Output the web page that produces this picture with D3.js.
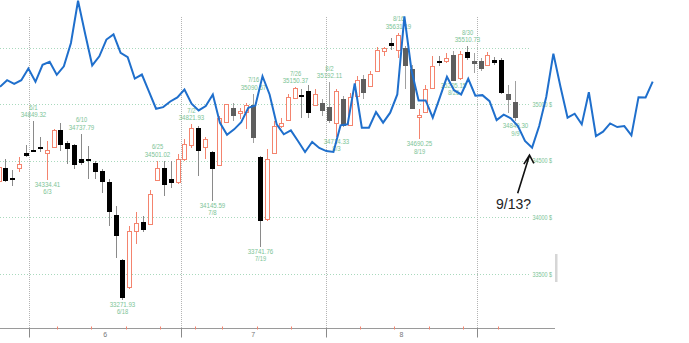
<!DOCTYPE html>
<html>
<head>
<meta charset="utf-8">
<script src="https://cdn.jsdelivr.net/npm/d3@7"></script>
<style>
  body { margin: 0; background: #fff; }
  svg { display: block; }
</style>
</head>
<body>
<div id="chart"></div>
<script>
// trading days shown (2021), OHLC
const days = [
  '5/24','5/25','5/26','5/27','5/28',
  '6/1','6/2','6/3','6/4','6/7','6/8','6/9','6/10','6/11','6/14','6/15','6/16','6/17','6/18',
  '6/21','6/22','6/23','6/24','6/25','6/28','6/29','6/30',
  '7/1','7/2','7/6','7/7','7/8','7/9','7/12','7/13','7/14','7/15','7/16','7/19','7/20','7/21',
  '7/22','7/23','7/26','7/27','7/28','7/29','7/30',
  '8/2','8/3','8/4','8/5','8/6','8/9','8/10','8/11','8/12','8/13','8/16','8/17','8/18','8/19',
  '8/20','8/23','8/24','8/25','8/26','8/27','8/30','8/31',
  '9/1','9/2','9/3','9/7','9/8','9/9'
];
const opens = [
  34319, 34440, 34349, 34440, 34572,
  34593, 34622, 34563, 34625, 34771, 34660, 34637, 34513, 34513, 34484, 34410, 34313, 34022, 33623,
  33383, 33882, 33956, 33941, 34337, 34440, 34343, 34308,
  34513, 34645, 34793, 34616, 34578, 34469, 34837, 34969, 34925, 34925, 34989, 34537, 33985, 34572,
  34807, 34866, 35057, 35077, 35121, 34989, 35013,
  34978, 34839, 35048, 34822, 35068, 35224, 35159, 35297, 35467, 35541, 35482, 35497, 35312, 34881,
  34925, 35145, 35380, 35380, 35438, 35233, 35462, 35386,
  35380, 35350, 35394, 35394, 35086, 35018
];
const highs = [
  34470, 34513, 34416, 34537, 34637,
  34849.32, 34713, 34674, 34778, 34830, 34675, 34645, 34737.79, 34630, 34498, 34425, 34337, 34102, 33632,
  33926, 34044, 34014, 34243, 34501.02, 34498, 34498, 34557,
  34689, 34821.93, 34807, 34713, 34590, 34895, 35002, 35015, 34969, 35013, 35090.57, 34542, 34601, 34851,
  34881, 35086, 35150.37, 35130, 35174, 35130, 35042,
  35192.11, 35133, 35071, 35101, 35247, 35260, 35291, 35506, 35506, 35586, 35631.19, 35518, 35350, 34954,
  35174, 35423, 35430, 35454, 35467, 35467, 35510.73, 35454,
  35410, 35458, 35421, 35412, 35174, 35203
];
const lows = [
  34300, 34311, 34273, 34401, 34537,
  34578, 34578, 34334.41, 34610, 34586, 34469, 34425, 34463, 34337, 34337, 34214, 33920, 33638, 33271.93,
  33368, 33764, 33870, 33932, 34328, 34190, 34264, 34293,
  34496, 34616, 34366, 34513, 34145.59, 34460, 34830, 34851, 34866, 34777, 34660, 33741.76, 33967, 34557,
  34793, 34857, 35042, 34881, 34881, 34980, 34895,
  34837, 34714.33, 34795, 34813, 35060, 35042, 35148, 35289, 35423, 35476, 35409, 35130, 34954, 34690.25,
  34919, 35139, 35335, 35368, 35205.15, 35218, 35394, 35277,
  35289, 35342, 35342, 35086, 34925, 34849.30
];
const closes = [
  34443, 34322, 34331, 34475, 34542,
  34584, 34608, 34593, 34771, 34639, 34610, 34463, 34478, 34496, 34405, 34313, 34044, 33837, 33289,
  33882, 33949, 33882, 34205, 34440, 34293, 34308, 34513,
  34645, 34793, 34586, 34689, 34431, 34881, 34998, 34895, 34939, 34989, 34696, 33970, 34519, 34807,
  34830, 35066, 35145, 35057, 34930, 35086, 34939,
  34851, 35121, 34807, 35066, 35212, 35101, 35268, 35482, 35497, 35512, 35615, 35342, 34960, 34901,
  35130, 35335, 35365, 35410, 35212, 35444, 35409, 35359,
  35306, 35438, 35365, 35101, 35036, 34881
];

// marked highs / lows
const highMarkDays = ['6/1', '6/10', '6/25', '7/2', '7/16', '7/26', '8/2', '8/16', '8/30'];
const highMarkValues = [34849.32, 34737.79, 34501.02, 34821.93, 35090.57, 35150.37, 35192.11, 35631.19, 35510.73];
const lowMarkDays = ['6/3', '6/18', '7/8', '7/19', '8/3', '8/19', '8/26', '9/9'];
const lowMarkValues = [34334.41, 33271.93, 34145.59, 33741.76, 34714.33, 34690.25, 35205.15, 34849.30];

const gridPrices = [35500, 35000, 34500, 34000, 33500];
const axisPrices = [35000, 34500, 34000, 33500];

// pasted blue overlay line, one point per step, in the same price units
const overlay = [
  35154, 35212, 35180, 35212, 35315, 35198, 35348, 35374, 35260, 35335,
  35541, 35914, 35623, 35342, 35423, 35571, 35617, 35453, 35415, 35227,
  35262, 35112, 34960, 34974, 35024, 35060, 35130, 35004, 34945, 34983,
  35086, 34835, 34729, 34778, 34842, 34969, 34989, 35247, 35086, 34822,
  34734, 34769, 34675, 34578, 34666, 34613, 34586, 34578, 34813, 34822,
  35183, 34793, 34793, 34930, 34837, 34925, 35086, 35776, 35300, 35033,
  35033, 34881, 35060, 35242, 35124, 35086, 35224, 35075, 35080, 35027,
  34860, 34907, 34875, 34807, 34675, 34616, 34807, 35066, 35447, 35154,
  34881, 34916, 34822, 35106, 34719, 34757, 34830, 34798, 34807, 34725,
  35062, 35060, 35200
];
const noteText = '9/13?';

// ---- styling
const UP = '#f4846e';
const GREEN = '#7cc496';
const FADED = new Set(['7/13', '7/16', '7/30', '8/2', '8/4', '8/9', '8/17', '8/18',
  '8/26', '8/31', '9/1', '9/8', '9/9']);

const width = 689, height = 343;
const STEP = 6.886;
const bandLeft = -1.5 - STEP / 2;
const gridRight = 530;
const axisY = 328.5;

const svg = d3.select('#chart').append('svg')
  .attr('width', width)
  .attr('height', height);

const y = d3.scaleLinear().domain([33500, 35500]).range([274, 47.6]);
const x = d3.scaleBand()
  .domain(days)
  .range([bandLeft, bandLeft + STEP * days.length])
  .padding(0);
const xo = d3.scaleLinear().domain([0, overlay.length - 1]).range([0, 652.7]);

const toDate = (s) => {
  const [m, d] = s.split('/').map(Number);
  return new Date(2021, m - 1, d);
};
const center = (d) => Math.round(x(d) + x.bandwidth() / 2);

// month and week boundaries
const monthStarts = [];
const weekStarts = [];
days.forEach((d, i) => {
  if (i === 0) return;
  const a = toDate(days[i - 1]), b = toDate(d);
  if (a.getMonth() !== b.getMonth()) monthStarts.push(d);
  else if (b.getDay() < a.getDay()) weekStarts.push(d);
});

// horizontal grid
svg.append('g')
  .selectAll('line')
  .data(gridPrices)
  .enter()
  .append('line')
  .attr('x1', 0)
  .attr('x2', gridRight)
  .attr('y1', (d) => Math.round(y(d)) + 0.5)
  .attr('y2', (d) => Math.round(y(d)) + 0.5)
  .attr('stroke', '#a9d9bd')
  .attr('stroke-dasharray', '1,2');

// month dividers
svg.append('g')
  .selectAll('line')
  .data(monthStarts)
  .enter()
  .append('line')
  .attr('x1', (d) => Math.round(x(d)) + 0.5)
  .attr('x2', (d) => Math.round(x(d)) + 0.5)
  .attr('y1', 17)
  .attr('y2', axisY)
  .attr('stroke', '#b4b4b4')
  .attr('stroke-dasharray', '1,1');

// bottom axis
const axis = svg.append('g');
axis.append('line')
  .attr('x1', 0).attr('x2', 555)
  .attr('y1', axisY).attr('y2', axisY)
  .attr('stroke', '#9a9a9a');
axis.selectAll('.mtick')
  .data(monthStarts)
  .enter()
  .append('line')
  .attr('x1', (d) => Math.round(x(d)) + 0.5)
  .attr('x2', (d) => Math.round(x(d)) + 0.5)
  .attr('y1', axisY)
  .attr('y2', axisY + 9)
  .attr('stroke', '#8a8a8a');
axis.selectAll('.wtick')
  .data(weekStarts)
  .enter()
  .append('line')
  .attr('x1', (d) => Math.round(x(d)) + 0.5)
  .attr('x2', (d) => Math.round(x(d)) + 0.5)
  .attr('y1', axisY - 2)
  .attr('y2', axisY + 1)
  .attr('stroke', UP);
axis.selectAll('text')
  .data(monthStarts.slice(0, -1).map((d, i) => [d, monthStarts[i + 1]]))
  .enter()
  .append('text')
  .attr('x', (d) => (x(d[0]) + x(d[1])) / 2)
  .attr('y', 336.5)
  .attr('text-anchor', 'middle')
  .attr('font-family', 'Liberation Sans, Arial, sans-serif')
  .attr('font-size', '7px')
  .attr('fill', '#777')
  .text((d) => toDate(d[0]).getMonth() + 1);

// right-hand scroll bar stub
svg.append('rect')
  .attr('x', 555).attr('y', 254)
  .attr('width', 2.5).attr('height', 28)
  .attr('fill', '#d6d6d6');

// candles
const candles = days.map((d, i) => ({
  day: d, o: opens[i], h: highs[i], l: lows[i], c: closes[i]
}));

const cg = svg.append('g').attr('shape-rendering', 'crispEdges');

cg.selectAll('line')
  .data(candles)
  .enter()
  .append('line')
  .attr('x1', (d) => center(d.day) + 0.5)
  .attr('x2', (d) => center(d.day) + 0.5)
  .attr('y1', (d) => y(d.h))
  .attr('y2', (d) => y(d.l))
  .attr('stroke', (d) => d.c >= d.o ? UP : (FADED.has(d.day) ? '#a0a0a0' : '#8a8a8a'));

cg.selectAll('rect')
  .data(candles)
  .enter()
  .append('rect')
  .each(function (d) {
    const top = y(Math.max(d.o, d.c));
    const bot = y(Math.min(d.o, d.c));
    const sel = d3.select(this);
    if (d.c >= d.o) {
      sel.attr('x', center(d.day) - 1.5)
        .attr('width', 4)
        .attr('y', Math.round(top) + 0.5)
        .attr('height', Math.max(1, Math.round(bot - top)))
        .attr('fill', '#fff')
        .attr('stroke', UP);
    } else {
      sel.attr('x', center(d.day) - 2)
        .attr('width', 5)
        .attr('y', Math.round(top))
        .attr('height', Math.max(2, Math.round(bot - top)))
        .attr('fill', FADED.has(d.day) ? '#5e5e5e' : '#000');
    }
  });

// high / low labels
const labelFont = 'Liberation Sans, Arial, sans-serif';
function markLabel(g, dayText, value, above) {
  const cx = center(dayText) + 0.5;
  const py = y(value);
  const valY = above ? py - 4 : py + 7;
  const dayY = above ? py - 11.5 : py + 14.5;
  const valStr = value.toFixed(2);
  g.append('text')
    .attr('x', cx).attr('y', valY)
    .attr('text-anchor', 'middle')
    .attr('font-family', labelFont)
    .attr('font-size', '7.5px')
    .attr('fill', GREEN)
    .attr('textLength', valStr.length * 3.2)
    .attr('lengthAdjust', 'spacingAndGlyphs')
    .text(valStr);
  g.append('text')
    .attr('x', cx).attr('y', dayY)
    .attr('text-anchor', 'middle')
    .attr('font-family', labelFont)
    .attr('font-size', '7.5px')
    .attr('fill', GREEN)
    .attr('textLength', dayText.length * 2.8)
    .attr('lengthAdjust', 'spacingAndGlyphs')
    .text(dayText);
}
const lg = svg.append('g');
highMarkDays.forEach((d, i) => markLabel(lg, d, highMarkValues[i], true));
lowMarkDays.forEach((d, i) => markLabel(lg, d, lowMarkValues[i], false));

// right price labels
svg.append('g')
  .selectAll('text')
  .data(axisPrices)
  .enter()
  .append('text')
  .attr('x', 532.5)
  .attr('y', (d) => y(d) + 2.5)
  .attr('font-family', labelFont)
  .attr('font-size', '8px')
  .attr('fill', GREEN)
  .attr('textLength', 19.5)
  .attr('lengthAdjust', 'spacingAndGlyphs')
  .text((d) => d + ' $');

// blue overlay
svg.append('path')
  .datum(overlay)
  .attr('fill', 'none')
  .attr('stroke', '#1f6fcc')
  .attr('stroke-width', 2)
  .attr('stroke-linejoin', 'miter')
  .attr('d', d3.line().x((d, i) => xo(i)).y((d) => y(d)));

// annotation pointing at the overlay's low
const lowIdx = d3.minIndex(overlay.slice(60)) + 60;
const tipX = xo(lowIdx) - 2.6;
const tipY = y(overlay[lowIdx]) + 7.5;
const note = svg.append('g');
note.append('path')
  .attr('d', `M${tipX - 11.8},${tipY + 38} L${tipX},${tipY}` +
    ` M${tipX - 5.6},${tipY + 9} L${tipX},${tipY} L${tipX + 4.4},${tipY + 8.3}`)
  .attr('fill', 'none')
  .attr('stroke', '#111')
  .attr('stroke-width', 1.6);
note.append('text')
  .attr('x', tipX - 33.5)
  .attr('y', tipY + 54)
  .attr('font-family', 'Liberation Sans, Arial, sans-serif')
  .attr('font-size', '14px')
  .attr('fill', '#222')
  .text(noteText);
</script>
</body>
</html>
